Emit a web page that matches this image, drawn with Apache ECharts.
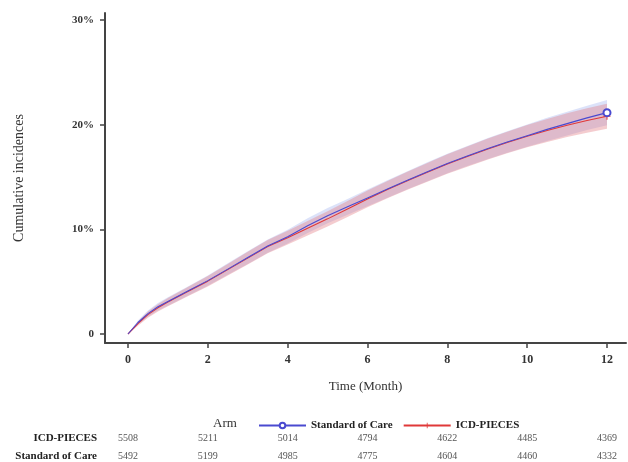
<!DOCTYPE html>
<html>
<head>
<meta charset="utf-8">
<script src="https://cdn.jsdelivr.net/npm/echarts@6/dist/echarts.min.js"></script>
<style>html,body{margin:0;padding:0;background:#fff;}#c{width:628px;height:462px;}</style>
</head>
<body>
<div id="c"></div>
<script>
// ---- data ----
const months = [0,0.25,0.5,0.75,1,1.5,2,2.5,3,3.5,4,4.5,5,5.5,6,6.5,7,7.5,8,8.5,9,9.5,10,10.5,11,11.5,12];
const icd   = [0,1.0,1.85,2.5,3.05,4.05,5.05,6.15,7.25,8.35,9.2,10.1,11.0,11.95,12.9,13.8,14.65,15.45,16.25,16.95,17.65,18.3,18.9,19.45,19.95,20.4,20.8];
const icdLo = [0,0.8,1.55,2.15,2.65,3.6,4.55,5.6,6.65,7.72,8.54,9.4,10.27,11.19,12.1,12.97,13.79,14.55,15.32,15.99,16.65,17.27,17.84,18.35,18.82,19.24,19.6];
const icdHi = [0,1.2,2.15,2.85,3.45,4.5,5.55,6.7,7.85,8.98,9.86,10.8,11.73,12.71,13.7,14.63,15.51,16.35,17.18,17.91,18.65,19.33,19.96,20.55,21.08,21.56,22.0];
const soc   = [0,1.1,1.95,2.6,3.1,4.1,5.1,6.2,7.3,8.4,9.3,10.35,11.3,12.15,13.0,13.85,14.7,15.5,16.3,17.0,17.7,18.35,18.95,19.55,20.1,20.65,21.15];
const socLo = [0,0.9,1.65,2.25,2.7,3.65,4.6,5.65,6.7,7.77,8.64,9.65,10.57,11.39,12.2,13.02,13.84,14.6,15.37,16.04,16.7,17.32,17.89,18.45,18.97,19.49,19.95];
const socHi = [0,1.3,2.25,2.95,3.5,4.55,5.6,6.75,7.9,9.03,9.96,11.05,12.03,12.91,13.8,14.68,15.56,16.4,17.23,17.96,18.7,19.38,20.01,20.65,21.23,21.81,22.35];
const xTicks = [0,2,4,6,8,10,12];
const yTicks = [0,10,20,30];
const riskICD = [5508,5211,5014,4794,4622,4485,4369];
const riskSOC = [5492,5199,4985,4775,4604,4460,4332];

const serif = '"Liberation Serif","DejaVu Serif",serif';
const pairs = (ys) => months.map((m,i)=>[m, ys[i]]);
const last = months.length - 1;
const plusPath = 'path://M4.3,0H5.7V4.3H10V5.7H5.7V10H4.3V5.7H0V4.3H4.3Z';

function bandSeries(name, lo, hi, color){
  return {
    name:name, type:'custom', silent:true, z:1,
    data: months.map((m,i)=>[m, lo[i], hi[i]]),
    encode:{x:0, y:[1,2]},
    renderItem:(params, api)=>{
      if (params.dataIndex !== 0) return null;
      const pts = [];
      for (let i=0;i<months.length;i++) pts.push(api.coord([months[i], hi[i]]));
      for (let i=months.length-1;i>=0;i--) pts.push(api.coord([months[i], lo[i]]));
      return {type:'polygon', shape:{points:pts}, style:{fill:color, stroke:null}};
    }
  };
}

const chart = echarts.init(document.getElementById('c'), null, {renderer:'canvas'});
const xMin = -0.576, xMax = 12.476;
function riskAxis(name, arr, off){
  return {
    type:'value', gridIndex:0, min:xMin, max:xMax, position:'bottom', offset:off,
    axisLine:{show:false, onZero:false}, axisTick:{show:false}, splitLine:{show:false},
    axisLabel:{customValues:xTicks, margin:0, verticalAlign:'middle', fontFamily:serif, fontSize:10, color:'#555',
      formatter:(v)=>{const i=xTicks.indexOf(Math.round(v)); return i>=0? String(arr[i]) : '';}},
    name:name, nameLocation:'start', nameGap:8,
    nameTextStyle:{fontFamily:serif, fontSize:11, fontWeight:'bold', color:'#222', align:'right', verticalAlign:'middle'}
  };
}
chart.setOption({
  animation:false,
  backgroundColor:'#fff',
  grid:{left:105, right:2, top:13, bottom:119, containLabel:false},
  title:{text:'Arm', left:208, top:412, textStyle:{fontFamily:serif, fontSize:13, fontWeight:'normal', color:'#333'}},
  legend:{
    left:253, top:415, itemWidth:47, itemHeight:7, itemGap:10,
    textStyle:{fontFamily:serif, fontSize:11, fontWeight:'bold', color:'#222'},
    data:['Standard of Care','ICD-PIECES']
  },
  xAxis:[
    {type:'value', min:xMin, max:xMax,
     axisLine:{show:true, onZero:false, lineStyle:{color:'#444', width:2}},
     axisTick:{show:true, customValues:xTicks, length:5, lineStyle:{color:'#444', width:1.5}},
     axisLabel:{customValues:xTicks, margin:11, fontFamily:serif, fontSize:12, fontWeight:'bold', color:'#333'},
     splitLine:{show:false},
     name:'Time (Month)', nameLocation:'middle', nameGap:37,
     nameTextStyle:{fontFamily:serif, fontSize:13, color:'#333'}},
    riskAxis('ICD-PIECES', riskICD, 95),
    riskAxis('Standard of Care', riskSOC, 113)
  ],
  yAxis:{type:'value', min:-0.86, max:30.67,
     axisLine:{show:true, onZero:false, lineStyle:{color:'#444', width:2}},
     axisTick:{show:true, customValues:yTicks, length:5, lineStyle:{color:'#444', width:1.5}},
     axisLabel:{customValues:yTicks, margin:11, fontFamily:serif, fontSize:11, fontWeight:'bold', color:'#333',
       formatter:(v)=> Math.round(v)===0 ? '0' : Math.round(v)+'%'},
     splitLine:{show:false},
     name:'Cumulative incidences', nameLocation:'middle', nameGap:79,
     nameTextStyle:{fontFamily:serif, fontSize:14, color:'#333'}},
  series:[
    bandSeries('socBand', socLo, socHi, 'rgba(140,160,235,0.3)'),
    bandSeries('icdBand', icdLo, icdHi, 'rgba(225,120,130,0.38)'),
    {name:'Standard of Care', type:'line', data:pairs(soc), color:'#4a4ad0',
     lineStyle:{color:'#4a4ad0', width:1.1},
     symbol:'emptyCircle', symbolSize:(v,p)=> p.dataIndex===last ? 7 : 0,
     itemStyle:{color:'#4a4ad0', borderWidth:1.5}, z:5},
    {name:'ICD-PIECES', type:'line', data:pairs(icd), color:'#e03838',
     lineStyle:{color:'#e03838', width:1.1},
     symbol:plusPath, symbolSize:(v,p)=> p.dataIndex===last ? 7 : 0,
     itemStyle:{color:'#e03838'}, z:4}
  ]
});
</script>
</body>
</html>
